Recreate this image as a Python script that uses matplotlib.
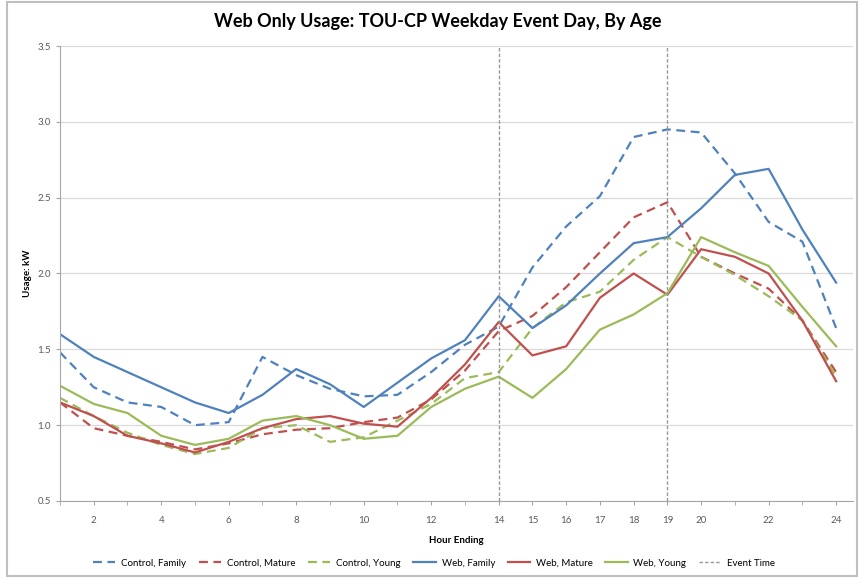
import numpy as np
import matplotlib.pyplot as plt
from matplotlib.patches import Rectangle

plt.rcParams['font.family'] = ['Lato', 'DejaVu Sans']

hours = list(range(1, 25))
tick_hours = [2, 4, 6, 8, 10, 12, 14, 15, 16, 17, 18, 19, 20, 22, 24]
event_hours = [14, 19]

control_family = [1.48, 1.25, 1.15, 1.12, 1.00, 1.02, 1.45, 1.33, 1.24, 1.19, 1.20, 1.35,
                  1.53, 1.65, 2.04, 2.31, 2.51, 2.90, 2.95, 2.93, 2.66, 2.34, 2.21, 1.64]
control_mature = [1.15, 0.98, 0.93, 0.89, 0.84, 0.88, 0.94, 0.97, 0.98, 1.02, 1.05, 1.17,
                  1.36, 1.62, 1.72, 1.91, 2.14, 2.37, 2.47, 2.11, 2.00, 1.90, 1.69, 1.35]
control_young = [1.18, 1.06, 0.95, 0.87, 0.81, 0.85, 0.98, 1.00, 0.89, 0.92, 1.03, 1.14,
                 1.31, 1.35, 1.64, 1.81, 1.88, 2.09, 2.24, 2.11, 1.99, 1.85, 1.69, 1.32]
web_family = [1.60, 1.45, 1.35, 1.25, 1.15, 1.08, 1.20, 1.37, 1.27, 1.12, 1.28, 1.44,
              1.56, 1.85, 1.64, 1.79, 2.00, 2.20, 2.24, 2.43, 2.65, 2.69, 2.29, 1.94]
web_mature = [1.15, 1.06, 0.93, 0.88, 0.82, 0.89, 0.98, 1.04, 1.06, 1.01, 0.99, 1.18,
              1.40, 1.68, 1.46, 1.52, 1.84, 2.00, 1.86, 2.16, 2.11, 2.00, 1.69, 1.29]
web_young = [1.26, 1.14, 1.08, 0.93, 0.87, 0.91, 1.03, 1.06, 1.00, 0.91, 0.93, 1.12,
             1.24, 1.32, 1.18, 1.37, 1.63, 1.73, 1.87, 2.24, 2.14, 2.05, 1.78, 1.52]

blue = '#4F81BD'
red = '#C0504D'
green = '#9BBB59'
dash = (0, (4, 2.5))

fig = plt.figure(figsize=(8.6, 5.78), dpi=100)
ax = fig.add_axes([60 / 860, 1 - 501 / 578, (853 - 60) / 860, (501 - 46) / 578])

ax.plot(hours, control_family, color=blue, lw=1.6, ls=dash, label='Control, Family')
ax.plot(hours, control_mature, color=red, lw=1.6, ls=dash, label='Control, Mature')
ax.plot(hours, control_young, color=green, lw=1.6, ls=dash, label='Control, Young')
ax.plot(hours, web_family, color=blue, lw=1.6, label='Web, Family')
ax.plot(hours, web_mature, color=red, lw=1.6, label='Web, Mature')
ax.plot(hours, web_young, color=green, lw=1.6, label='Web, Young')
for i, h in enumerate(event_hours):
    ax.axvline(h, color='#999999', lw=1.0, ls=(0, (2.5, 1.5)),
               label='Event Time' if i == 0 else None)

ax.set_xlim(1, 24.5)
ax.set_ylim(0.5, 3.5)
ax.set_yticks(np.arange(0.5, 3.51, 0.5))
ax.set_yticklabels([f'{v:.1f}' for v in np.arange(0.5, 3.51, 0.5)])
ax.set_xticks(tick_hours)
ax.set_xticks(hours, minor=True)
ax.tick_params(axis='x', which='both', length=3, color='#A6A6A6', labelsize=7,
               labelcolor='#595959', pad=8)
ax.tick_params(axis='y', length=3, color='#A6A6A6', labelsize=7, labelcolor='#595959')
ax.grid(axis='y', color='#D9D9D9', lw=0.9)
ax.set_axisbelow(True)
for s in ['top', 'right']:
    ax.spines[s].set_visible(False)
for s in ['left', 'bottom']:
    ax.spines[s].set_color('#A6A6A6')

ax.set_xlabel('Hour Ending', fontsize=7, fontweight='bold', labelpad=8)
ax.set_ylabel('Usage: kW', fontsize=7, fontweight='bold', labelpad=4)
fig.text(438 / 860, 1 - 22 / 578, 'Web Only Usage: TOU-CP Weekday Event Day, By Age',
         ha='center', va='center', fontsize=13, fontweight='bold')

fig.legend(loc='center', bbox_to_anchor=(434 / 860, 1 - 563 / 578), ncol=7, frameon=False,
           fontsize=7, handlelength=2.3, handletextpad=0.6, columnspacing=1.3)

fig.add_artist(Rectangle((7 / 860, 2 / 578), 850 / 860, 574 / 578, transform=fig.transFigure,
                         fill=False, edgecolor='#BFBFBF', lw=1.5))

plt.savefig('out.png', dpi=100)
